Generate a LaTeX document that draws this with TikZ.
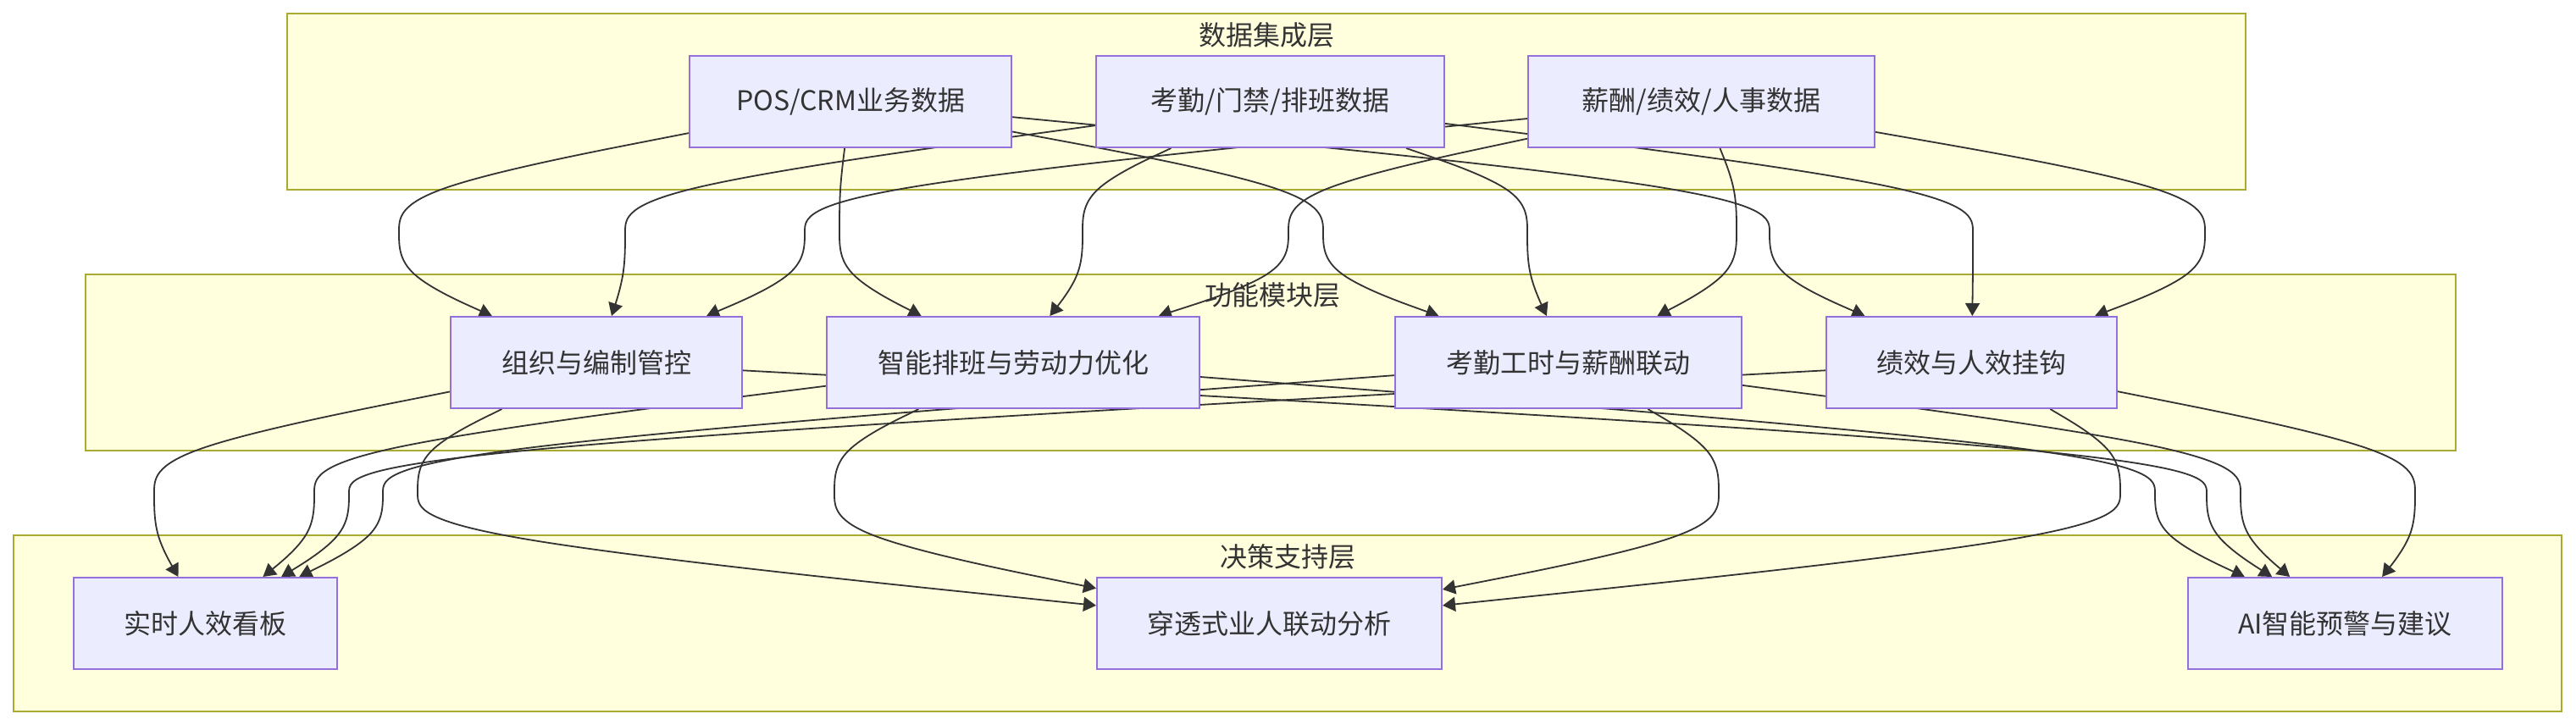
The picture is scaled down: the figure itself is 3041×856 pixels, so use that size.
\documentclass[tikz,border=0pt]{standalone}
\usepackage{fontspec}
\newfontfamily\cjk{Noto Sans CJK SC}
\usetikzlibrary{calc,arrows.meta}
\pgfdeclarelayer{bg}
\pgfdeclarelayer{edges}
\pgfsetlayers{bg,edges,main}
\definecolor{nodefill}{HTML}{ECECFF}
\definecolor{nodeline}{HTML}{9370DB}
\definecolor{clfill}{HTML}{FFFFDE}
\definecolor{clline}{HTML}{AAAA33}
\definecolor{ink}{HTML}{333333}
\tikzset{
  box/.style={draw=nodeline, fill=nodefill, line width=1pt, minimum height=54pt,
    inner sep=0pt, text=ink, font=\cjk\fontsize{16}{19}\selectfont},
  cluster/.style={draw=clline, fill=clfill, line width=0.9pt, minimum height=104pt, inner sep=0pt},
  cltitle/.style={text=ink, font=\cjk\fontsize{16}{19}\selectfont, inner sep=0pt},
  edge/.style={draw=ink, line width=0.9pt, -{Triangle[length=7.5pt,width=8.5pt]}},
}
% basis-spline connector: source, target, lane x, y of upper gap edge, y of lower gap edge
\newcommand\bedge[5]{%
  \coordinate (qB) at (#3,#4);
  \coordinate (qD) at (#3,#5);
  \coordinate (qC) at (#3,{(#4+#5)/2});
  \path (qB) -- (#1) coordinate[pos=1] (qA);
  \path (qD) -- (#2) coordinate[pos=1] (qE);
  \draw[edge] (qA) -- ($(qA)!0.166667!(qB)$)
    .. controls ($(qA)!0.333333!(qB)$) and ($(qA)!0.666667!(qB)$) .. ($0.166667*(qA)+0.666667*(qB)+0.166667*(qC)$)
    .. controls ($(qB)!0.333333!(qC)$) and ($(qB)!0.666667!(qC)$) .. (qC)
    .. controls ($(qC)!0.333333!(qD)$) and ($(qC)!0.666667!(qD)$) .. ($0.166667*(qC)+0.666667*(qD)+0.166667*(qE)$)
    .. controls ($(qD)!0.333333!(qE)$) and ($(qD)!0.666667!(qE)$) .. ($(qD)!0.833333!(qE)$) -- (qE);
}
\begin{document}
\begin{tikzpicture}[x=0.5pt,y=-0.5pt]
\useasboundingbox (0,0) rectangle (3041,856);
\begin{pgfonlayer}{bg}
  \fill[white] (0,0) rectangle (3041,856);
  \node[cluster, minimum width=1156pt] (L1) at (1495,120) {};
  \node[cluster, minimum width=1399pt] (L2) at (1500,428) {};
  \node[cluster, minimum width=1504pt] (L3) at (1520,736) {};
  \node[cltitle] (L1t) at (1495,41) {数据集成层};
  \node[cltitle] (L2t) at (1502,348) {功能模块层};
  \node[cltitle] (L3t) at (1520,657) {决策支持层};
\end{pgfonlayer}

\node[box, minimum width=190pt]   (pos) at (1004,120)   {POS/CRM业务数据};
\node[box, minimum width=205.5pt] (kq)  at (1499.5,120) {考勤/门禁/排班数据};
\node[box, minimum width=204.5pt] (xc)  at (2008.5,120) {薪酬/绩效/人事数据};
\node[box, minimum width=172pt]   (zz)  at (704,428)    {组织与编制管控};
\node[box, minimum width=220pt]   (zn)  at (1196,428)   {智能排班与劳动力优化};
\node[box, minimum width=204.5pt] (kg)  at (1851.5,428) {考勤工时与薪酬联动};
\node[box, minimum width=171.5pt] (jx)  at (2327.5,428) {绩效与人效挂钩};
\node[box, minimum width=155.5pt] (ss)  at (242.5,736)  {实时人效看板};
\node[box, minimum width=203.5pt] (ct)  at (1498.5,736) {穿透式业人联动分析};
\node[box, minimum width=185.5pt] (ai)  at (2768.5,736) {AI智能预警与建议};

\begin{pgfonlayer}{edges}
  % data layer -> module layer
  \bedge{pos}{zz}{471}{224}{324}
  \bedge{kq}{zz}{738}{224}{324}
  \bedge{xc}{zz}{950}{224}{324}
  \bedge{pos}{zn}{991}{224}{324}
  \bedge{kq}{zn}{1278}{224}{324}
  \bedge{xc}{zn}{1521}{224}{324}
  \bedge{pos}{kg}{1562}{224}{324}
  \bedge{kq}{kg}{1803}{224}{324}
  \bedge{xc}{kg}{2050}{224}{324}
  \bedge{pos}{jx}{2089}{224}{324}
  \bedge{kq}{jx}{2329}{224}{324}
  \bedge{xc}{jx}{2603}{224}{324}
  % module layer -> decision layer
  \bedge{zz}{ss}{182}{532}{632}
  \bedge{zn}{ss}{371}{532}{632}
  \bedge{jx}{ss}{412}{532}{632}
  \bedge{kg}{ss}{452}{532}{632}
  \bedge{zz}{ct}{493}{532}{632}
  \bedge{zn}{ct}{985}{532}{632}
  \bedge{kg}{ct}{2029}{532}{632}
  \bedge{jx}{ct}{2503}{532}{632}
  \bedge{zn}{ai}{2544}{532}{632}
  \bedge{zz}{ai}{2605}{532}{632}
  \bedge{kg}{ai}{2645}{532}{632}
  \bedge{jx}{ai}{2851}{532}{632}
\end{pgfonlayer}
\end{tikzpicture}
\end{document}
